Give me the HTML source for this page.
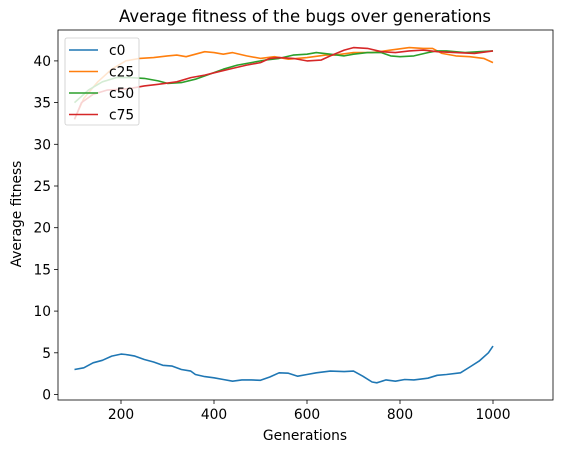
<!DOCTYPE html>
<html><head><meta charset="utf-8"><style>
body{margin:0;background:#fff;}
svg text{font-family:"DejaVu Sans","Liberation Sans",sans-serif;fill:#000;}
</style></head><body>
<svg id="c" width="563" height="453" xmlns="http://www.w3.org/2000/svg"></svg>
<script>
const xTicks=[200,400,600,800,1000];
const yTicks=[0,5,10,15,20,25,30,35,40];
const seriesNames=["c0","c25","c50","c75"];
const colors=["#1f77b4","#ff7f0e","#2ca02c","#d62728"];
const c0Gen=[100,120,140,160,180,200,210,230,250,270,290,310,330,350,360,380,400,420,440,460,480,500,520,540,560,580,600,620,650,680,700,720,740,750,770,790,810,830,860,880,900,930,950,970,990,1000];
const c0Val=[3.0,3.2,3.8,4.1,4.6,4.85,4.8,4.6,4.2,3.9,3.5,3.4,3.0,2.8,2.4,2.15,2.0,1.8,1.6,1.75,1.75,1.7,2.1,2.6,2.55,2.2,2.4,2.6,2.8,2.75,2.8,2.2,1.5,1.4,1.75,1.6,1.8,1.75,1.95,2.3,2.4,2.6,3.3,4.0,5.0,5.8];
const c25Gen=[100,120,150,180,210,240,270,300,320,340,360,380,400,420,440,470,500,530,560,600,640,660,700,740,780,820,850,870,890,920,950,980,1000];
const c25Val=[33,35.5,37.5,39,40,40.3,40.4,40.6,40.7,40.5,40.8,41.1,41,40.8,41,40.6,40.3,40.5,40.2,40.4,40.7,40.7,41,41,41.3,41.6,41.5,41.5,40.9,40.6,40.5,40.3,39.8];
const c50Gen=[100,130,160,190,220,250,280,300,330,360,390,420,450,480,510,540,570,600,620,650,680,700,730,760,780,800,830,860,880,900,940,970,1000];
const c50Val=[35,36.5,37.5,38,38,37.9,37.6,37.3,37.4,37.8,38.4,39,39.5,39.8,40.1,40.3,40.7,40.8,41,40.8,40.6,40.8,41,41,40.6,40.5,40.6,41,41.2,41.2,41,41.1,41.2];
const c75Gen=[100,115,140,170,200,220,250,280,320,350,380,410,440,470,500,520,540,570,600,630,650,680,700,730,760,790,820,850,880,920,960,1000];
const c75Val=[33,35,36,36.5,36.6,36.7,37,37.2,37.5,38,38.3,38.7,39.1,39.5,39.8,40.3,40.4,40.3,40,40.1,40.6,41.3,41.6,41.5,41.1,41,41.2,41.3,41.1,41,40.9,41.2];
const gens=[c0Gen,c25Gen,c50Gen,c75Gen];
const vals=[c0Val,c25Val,c50Val,c75Val];

const L=58,R=553,T=30,B=400;
const xs=v=>121+(v-200)*(372/800);
const ys=v=>394.5-v*8.34;
const svg=document.getElementById('c');
const NS='http://www.w3.org/2000/svg';
function mk(tag,attrs,parent){const e=document.createElementNS(NS,tag);for(const k in attrs)e.setAttribute(k,attrs[k]);(parent||svg).appendChild(e);return e;}

const title=mk('text',{x:305,y:22,'text-anchor':'middle','font-size':16.5});
title.textContent='Average fitness of the bugs over generations';



xTicks.forEach(t=>{
  const x=xs(t);
  const l=mk('line',{x1:x,x2:x,y1:B,y2:B+4,stroke:'#000','stroke-width':0.8});
  
  
  const tx=mk('text',{x:x,y:B+19,'text-anchor':'middle','font-size':13.8});
  tx.textContent=t;
  
  
});
yTicks.forEach(t=>{
  const y=ys(t);
  const l=mk('line',{x1:L-4,x2:L,y1:y,y2:y,stroke:'#000','stroke-width':0.8});
  
  
  const tx=mk('text',{x:L-7,y:y+5,'text-anchor':'end','font-size':13.8});
  tx.textContent=t;
  
  
});

vals.forEach((arr,i)=>{
  const pts=arr.map((v,j)=>xs(gens[i][j]).toFixed(1)+','+ys(v).toFixed(1)).join(' ');
  const p=mk('polyline',{points:pts,fill:'none',stroke:colors[i],'stroke-width':1.6,'stroke-linejoin':'round'});
  
  
});

const frame=mk('rect',{x:L,y:T,width:R-L,height:B-T,fill:'none',stroke:'#000','stroke-width':0.8});



const xl=mk('text',{x:305,y:440,'text-anchor':'middle','font-size':13.8});
xl.textContent='Generations';


const yl=mk('text',{x:0,y:0,'text-anchor':'middle','font-size':13.8,transform:'translate(21,214) rotate(-90)'});
yl.textContent='Average fitness';



const lg=mk('g',{});


mk('rect',{x:65,y:38,width:74,height:87,rx:2,fill:'#fff','fill-opacity':0.8,stroke:'#ccc','stroke-width':0.8},lg);
seriesNames.forEach((n,i)=>{
  const y=50+i*21.5;
  const e=mk('g',{},lg);
  
  
  mk('line',{x1:69,x2:98,y1:y,y2:y,stroke:colors[i],'stroke-width':1.6},e);
  const t=mk('text',{x:109,y:y+5,'font-size':13.8},e);
  t.textContent=n;
});
</script>
</body></html>
